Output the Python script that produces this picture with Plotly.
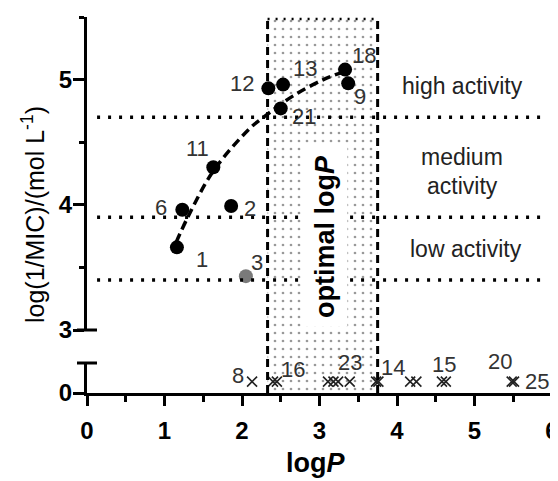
import plotly.graph_objects as go

# ---------------- data ----------------
active_ids = ["1", "6", "2", "11", "12", "13", "21", "18", "9"]
active_logp = [1.16, 1.23, 1.86, 1.63, 2.34, 2.53, 2.50, 3.33, 3.37]
active_act = [3.66, 3.96, 3.99, 4.30, 4.93, 4.96, 4.77, 5.08, 4.97]

outlier_ids = ["3"]
outlier_logp = [2.05]
outlier_act = [3.43]

trend_logp = [1.15, 1.30, 1.63, 2.10, 2.30, 2.66, 3.05, 3.30]
trend_act = [3.70, 3.90, 4.27, 4.61, 4.71, 4.87, 5.00, 5.06]

inactive_logp = [2.13, 2.40, 2.45, 3.11, 3.18, 3.24, 3.39, 3.73, 3.76,
                 4.17, 4.25, 4.58, 4.63, 5.48, 5.51]
inactive_level = [0.38] * len(inactive_logp)
inactive_label_ids = ["8", "16", "23", "14", "15", "20", "25"]
inactive_label_logp = [2.13, 2.43, 3.24, 3.74, 4.60, 5.48, 5.51]

thresholds = [4.7, 3.9, 3.4]
optimal_range = [2.33, 3.75]

x_ticks = [0, 1, 2, 3, 4, 5, 6]
y_upper_ticks = [3, 4, 5]
y_lower_ticks = [0]

# ---------------- style ----------------
FONT = "Liberation Sans, Arial, sans-serif"
# the page body adds an 8px offset, so the figure is 8px smaller each way
W, H = 550, 473
ML, MR, MT, MB = 79, 6, 9, 88
plot_w = W - ML - MR
plot_h = H - MT - MB
Y0 = MT + plot_h  # figure y of the x axis
up_dom = [(Y0 - (330 - 8)) / plot_h, 1.0]
lo_dom = [0.0, (Y0 - (363 - 8)) / plot_h]

active_off = [(25, 12), (-21, -2), (19, 2), (-16, -19), (-26, -5),
              (22, -16), (23, 8), (19, -14), (12, 13)]
outlier_off = [(11, -14)]
inactive_off = [(-14, -6), (18, -12), (12, -19), (16, -14), (0, -17),
                (-12, -20), (23, 0)]

fig = go.Figure()

# optimal logP patterned band (full-height hidden axis y)
x0, x1 = optimal_range
fig.add_trace(go.Scatter(
    x=[x0, x1, x1, x0, x0], y=[0, 0, 1, 1, 0], xaxis="x", yaxis="y",
    mode="lines", line=dict(width=0), fill="toself",
    fillcolor="rgba(0,0,0,0)",
    fillpattern=dict(shape=".", size=8, solidity=0.09, fgcolor="#333",
                     bgcolor="rgba(255,255,255,0)", fillmode="overlay"),
    hoverinfo="skip", showlegend=False))

# trend line
fig.add_trace(go.Scatter(
    x=trend_logp, y=trend_act, xaxis="x", yaxis="y2", mode="lines",
    line=dict(color="black", width=3.5, dash="9px,5px", shape="spline"),
    showlegend=False, hoverinfo="skip"))

fig.add_trace(go.Scatter(
    x=active_logp, y=active_act, xaxis="x", yaxis="y2", mode="markers",
    marker=dict(size=14, color="black"), showlegend=False))
fig.add_trace(go.Scatter(
    x=outlier_logp, y=outlier_act, xaxis="x", yaxis="y2", mode="markers",
    marker=dict(size=14, color="#7a7a7a"), showlegend=False))

fig.add_trace(go.Scatter(
    x=inactive_logp, y=inactive_level, xaxis="x", yaxis="y3", mode="markers",
    marker=dict(symbol="x-thin", size=10, line=dict(width=1.6, color="#222")),
    showlegend=False))

shapes = []
for t in thresholds:
    shapes.append(dict(type="line", xref="x", yref="y2", x0=0.13, x1=5.92,
                       y0=t, y1=t, layer="above",
                       line=dict(color="black", width=3.5, dash="3px,8px")))
# white box behind rotated label
shapes.append(dict(type="rect", xref="x", yref="y2", x0=2.77, x1=3.36,
                   y0=3.03, y1=4.48, fillcolor="white", line=dict(width=0),
                   layer="above"))
# band borders
for xv in optimal_range:
    shapes.append(dict(type="line", xref="x", yref="y", x0=xv, x1=xv,
                       y0=0, y1=0.995, layer="above",
                       line=dict(color="black", width=3, dash="8px,5px")))
shapes.append(dict(type="line", xref="x", yref="y", x0=x0, x1=x1,
                   y0=0.995, y1=0.995, layer="above",
                   line=dict(color="black", width=2.5, dash="2px,6px")))
# axis-break caps
cap = 10 / plot_w
for yp in [up_dom[0], lo_dom[1]]:
    shapes.append(dict(type="line", xref="paper", yref="paper", x0=-cap,
                       x1=cap, y0=yp, y1=yp,
                       line=dict(color="black", width=3)))

ann = []
lab_font = dict(family=FONT, size=22, color="#333")
for t, xv, yv, (dx, dy) in zip(active_ids, active_logp, active_act, active_off):
    ann.append(dict(text=t, x=xv, y=yv, xref="x", yref="y2", showarrow=False,
                    xshift=dx, yshift=-dy, font=lab_font))
for t, xv, yv, (dx, dy) in zip(outlier_ids, outlier_logp, outlier_act, outlier_off):
    ann.append(dict(text=t, x=xv, y=yv, xref="x", yref="y2", showarrow=False,
                    xshift=dx, yshift=-dy, font=lab_font))
for t, xv, (dx, dy) in zip(inactive_label_ids, inactive_label_logp, inactive_off):
    ann.append(dict(text=t, x=xv, y=inactive_level[0], xref="x", yref="y3",
                    showarrow=False, xshift=dx, yshift=-dy, font=lab_font))

reg_font = dict(family=FONT, size=23, color="#222")
for txt, xv, yv in [("high activity", 4.84, 4.95), ("medium", 4.84, 4.38),
                    ("activity", 4.84, 4.15), ("low activity", 4.89, 3.65)]:
    ann.append(dict(text=txt, x=xv, y=yv, xref="x", yref="y2",
                    showarrow=False, font=reg_font))

ann.append(dict(text="<b>optimal log<i>P</i></b>", x=3.07, y=3.75, xref="x",
                yref="y2", showarrow=False, textangle=-90,
                font=dict(family=FONT, size=27, color="black")))

ann.append(dict(text="log(1/MIC)/(mol L<sup>-1</sup>)",
                x=(33 - 87) / plot_w, y=(393 - 215) / plot_h,
                xref="paper", yref="paper", showarrow=False, textangle=-90,
                xanchor="center", yanchor="middle",
                font=dict(family=FONT, size=25, color="black")))
ann.append(dict(text="<b>log<i>P</i></b>", x=(316 - 87) / plot_w,
                y=(393 - 463) / plot_h, xref="paper", yref="paper",
                showarrow=False, xanchor="center", yanchor="middle",
                font=dict(family=FONT, size=27, color="black")))

tick_font = dict(family=FONT, size=24, color="black")
fig.update_layout(
    width=W, height=H, margin=dict(l=ML, r=MR, t=MT, b=MB, autoexpand=False),
    paper_bgcolor="white", plot_bgcolor="rgba(0,0,0,0)",
    showlegend=False, shapes=shapes, annotations=ann,
    xaxis=dict(range=[0, 6], anchor="y3", showgrid=False, zeroline=False,
               showline=True, linewidth=3, linecolor="black",
               ticks="outside", ticklen=10, tickwidth=3, tickcolor="black",
               tickvals=x_ticks, ticktext=[f"<b>{v}</b>" for v in x_ticks],
               tickfont=tick_font, automargin=False,
               ticklabeloverflow="allow", ticklabelstandoff=4,
               minor=dict(tickvals=[0.5, 1.5, 2.5, 3.5, 4.5, 5.5],
                          ticks="outside", ticklen=6, tickwidth=3,
                          tickcolor="black")),
    yaxis=dict(domain=[0, 1], range=[0, 1], visible=False, anchor="x",
               fixedrange=True),
    yaxis2=dict(domain=up_dom, range=[3, 5.5], anchor="x", showgrid=False,
                zeroline=False, showline=True, linewidth=3, linecolor="black",
                ticks="outside", ticklen=11, tickwidth=3, tickcolor="black",
                tickvals=y_upper_ticks, automargin=False,
                ticklabelstandoff=-4,
                ticktext=[f"<b>{v}</b>" for v in y_upper_ticks],
                tickfont=tick_font,
                minor=dict(tickvals=[3.5, 4.5, 5.5], ticks="outside",
                           ticklen=5, tickwidth=3, tickcolor="black")),
    yaxis3=dict(domain=lo_dom, range=[0, 1], anchor="x", showgrid=False,
                zeroline=False, showline=True, linewidth=3, linecolor="black",
                ticks="outside", ticklen=11, tickwidth=3, tickcolor="black",
                tickvals=y_lower_ticks, automargin=False,
                ticklabelstandoff=-4,
                ticktext=[f"<b>{v}</b>" for v in y_lower_ticks],
                tickfont=tick_font),
)

fig.write_html("out.html")
